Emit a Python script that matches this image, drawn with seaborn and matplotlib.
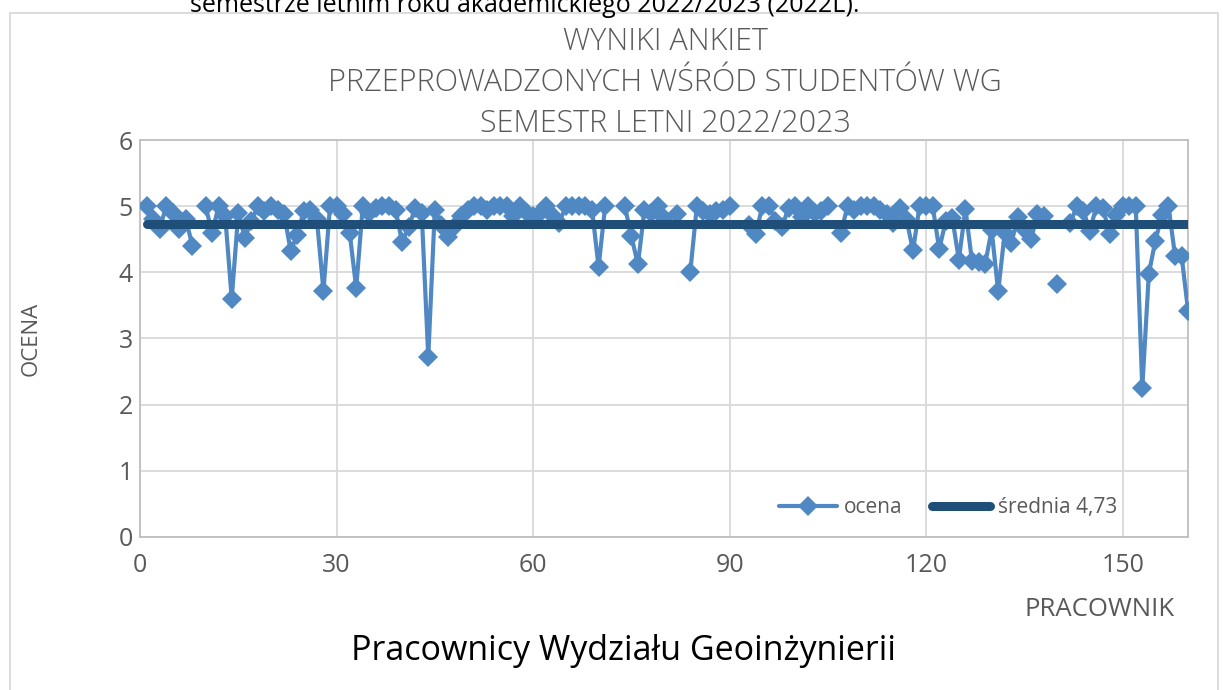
import numpy as np
import pandas as pd
import seaborn as sns
import matplotlib.pyplot as plt
from matplotlib.lines import Line2D
from matplotlib.patches import Rectangle

# oceny kolejnych pracowników (NaN = brak wyniku)
nan = np.nan
pracownik = list(range(1, 161))
ocena = [
    5.00, 4.80, 4.66, 5.00, 4.90, 4.65, 4.80, 4.40, nan, 5.00,
    4.60, 5.00, 4.85, 3.60, 4.90, 4.52, 4.78, 5.00, 4.93, 5.00,
    4.95, 4.88, 4.32, 4.57, 4.93, 4.95, 4.80, 3.72, 5.00, 5.00,
    4.88, 4.60, 3.76, 5.00, 4.90, 4.97, 5.00, 5.00, 4.95, 4.46,
    4.68, 4.97, 4.90, 2.72, 4.95, 4.72, 4.53, 4.68, 4.85, 4.95,
    5.00, 5.00, 4.95, 5.00, 5.00, 5.00, 4.85, 5.00, 4.90, 4.85,
    4.90, 5.00, 4.85, 4.75, 5.00, 5.00, 5.00, 5.00, 4.95, 4.08,
    5.00, nan, nan, 5.00, 4.55, 4.12, 4.94, 4.90, 5.00, 4.82,
    nan, 4.88, nan, 4.01, 5.00, 4.92, 4.88, 4.93, 4.95, 5.00,
    nan, nan, 4.72, 4.58, 5.00, 5.00, 4.78, 4.68, 4.98, 5.00,
    4.83, 5.00, 4.90, 4.93, 5.00, nan, 4.60, 5.00, 4.95, 5.00,
    5.00, 5.00, 4.95, 4.88, 4.75, 4.97, 4.80, 4.33, 5.00, 5.00,
    5.00, 4.35, 4.78, 4.82, 4.19, 4.96, 4.17, 4.15, 4.12, 4.64,
    3.71, 4.60, 4.44, 4.83, 4.65, 4.50, 4.88, 4.85, nan, 3.82,
    nan, 4.74, 5.00, 4.93, 4.63, 5.00, 4.97, 4.58, 4.86, 5.00,
    5.00, 5.00, 2.25, 3.98, 4.48, 4.86, 5.00, 4.25, 4.25, 3.41,
]
srednia = 4.73
x_ticks = [0, 30, 60, 90, 120, 150]
y_ticks = [0, 1, 2, 3, 4, 5, 6]
tytul = ["WYNIKI ANKIET", "PRZEPROWADZONYCH WŚRÓD STUDENTÓW WG",
         "SEMESTR LETNI 2022/2023"]

df = pd.DataFrame({"pracownik": pracownik, "ocena": ocena})
# split into continuous segments so gaps stay gaps
df["seg"] = df["ocena"].isna().cumsum()
df = df.dropna()

df_mean = pd.DataFrame({"pracownik": [df["pracownik"].min(), df["pracownik"].max()],
                        "ocena": [srednia, srednia]})

sns.set_theme(style="whitegrid")
plt.rcParams["font.family"] = ["Open Sans", "DejaVu Sans"]

c_ocena = "#4F88C2"
c_mean = "#1F4E79"
c_text = "#595959"

fig = plt.figure(figsize=(12.23, 6.9), dpi=100)
ax = fig.add_axes([0.1145, 0.222, 0.857, 0.575])

sns.lineplot(data=df, x="pracownik", y="ocena", units="seg", estimator=None,
             color=c_ocena, linewidth=3, marker="D", markersize=10,
             markeredgewidth=0, ax=ax, zorder=3)
sns.lineplot(data=df_mean, x="pracownik", y="ocena", color=c_mean,
             linewidth=6.5, solid_capstyle="round", ax=ax, zorder=4)

ax.set_xlim(0, 160)
ax.set_ylim(0, 6)
ax.set_xticks(x_ticks)
ax.set_yticks(y_ticks)
ax.grid(True, color="#D9D9D9", linewidth=1.3)
for s in ax.spines.values():
    s.set_color("#BFBFBF")
    s.set_linewidth(1.3)
ax.tick_params(axis="both", colors=c_text, labelsize=18, length=0)
ax.tick_params(axis="x", pad=12)
ax.tick_params(axis="y", pad=5)
ax.set_xlabel("")
ax.set_ylabel("OCENA", color=c_text, fontsize=16)
ax.yaxis.set_label_coords(-0.094, 0.5)

handles = [
    Line2D([], [], color=c_ocena, linewidth=3, marker="D", markersize=10,
           markeredgewidth=0),
    Line2D([], [], color=c_mean, linewidth=6.5, solid_capstyle="round"),
]
ax.legend(handles, ["ocena", "średnia 4,73"], loc="lower right",
          bbox_to_anchor=(0.95, 0.0), ncol=2, frameon=False, fontsize=15,
          labelcolor=c_text, handlelength=2.8, columnspacing=1.4,
          handletextpad=0.35)

for i, line in enumerate(tytul):
    fig.text(665 / 1223, 1 - (42 + 41 * i) / 690, line, ha="center",
             va="center", fontsize=22, color=c_text, fontweight="light")

fig.text(1175 / 1223, 1 - 609 / 690, "PRACOWNIK", ha="right", va="center",
         fontsize=18.5, color=c_text)
fig.text(623 / 1223, 1 - 651 / 690, "Pracownicy Wydziału Geoinżynierii",
         ha="center", va="center", fontsize=24.5, color="black")

# cut-off document text above the chart
fig.text(190 / 1223, 1 - 12 / 690,
         "semestrze letnim roku akademickiego 2022/2023 (2022L).",
         ha="left", va="baseline", fontsize=18, color="black")

# outer chart frame
fig.patches.append(Rectangle((10 / 1223, -0.05), 1208 / 1223, 1.05 - 13 / 690,
                             transform=fig.transFigure, fill=False,
                             edgecolor="#D9D9D9", linewidth=1.3))

fig.savefig("out.png", dpi=100)
